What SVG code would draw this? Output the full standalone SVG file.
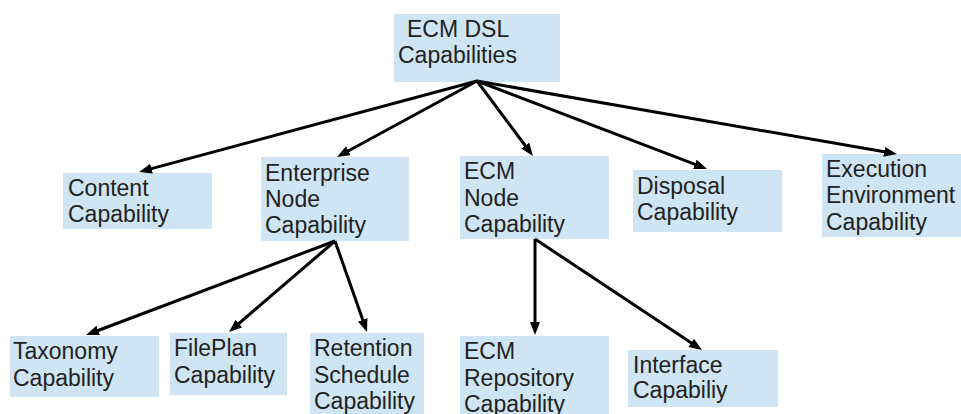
<svg xmlns="http://www.w3.org/2000/svg" width="961" height="414" viewBox="0 0 961 414">
<defs>
<style>
.box{fill:#cfe5f3}
.t{font-family:"Liberation Sans",Arial,sans-serif;font-size:23px;fill:#222}
.c{stroke:#000;stroke-width:3;fill:none;marker-end:url(#ah)}
</style>
<marker id="ah" markerUnits="userSpaceOnUse" markerWidth="14" markerHeight="11" refX="3" refY="5" orient="auto">
<path d="M0,0 L13,5 L0,10 Z" fill="#000"/>
</marker>
</defs>
<rect width="961" height="414" fill="#fff"/>
<g id="root"><rect class="box" x="394" y="14" width="166" height="68"/><text class="t" x="407" y="37">ECM DSL</text><text class="t" x="398" y="63">Capabilities</text></g>
<g id="content"><rect class="box" x="63" y="173" width="149" height="56"/><text class="t" x="68" y="196">Content</text><text class="t" x="68" y="222">Capability</text></g>
<g id="enterprise"><rect class="box" x="261" y="157" width="148" height="84"/><text class="t" x="265" y="181">Enterprise</text><text class="t" x="265" y="207">Node</text><text class="t" x="265" y="233">Capability</text></g>
<g id="ecmnode"><rect class="box" x="460" y="156" width="149" height="83"/><text class="t" x="464" y="179">ECM</text><text class="t" x="464" y="206">Node</text><text class="t" x="464" y="232">Capability</text></g>
<g id="disposal"><rect class="box" x="633" y="170" width="149" height="62"/><text class="t" x="637" y="194">Disposal</text><text class="t" x="637" y="220">Capability</text></g>
<g id="execution"><rect class="box" x="822" y="154" width="139" height="83"/><text class="t" x="826" y="177">Execution</text><text class="t" x="826" y="203">Environment</text><text class="t" x="826" y="230">Capability</text></g>
<g id="taxonomy"><rect class="box" x="10" y="336" width="149" height="61"/><text class="t" x="13" y="359">Taxonomy</text><text class="t" x="13" y="386">Capability</text></g>
<g id="fileplan"><rect class="box" x="170" y="333" width="117" height="62"/><text class="t" x="174" y="356">FilePlan</text><text class="t" x="174" y="383">Capability</text></g>
<g id="retention"><rect class="box" x="310" y="333" width="114" height="81"/><text class="t" x="314" y="356">Retention</text><text class="t" x="314" y="383">Schedule</text><text class="t" x="314" y="409">Capability</text></g>
<g id="repository"><rect class="box" x="460" y="336" width="149" height="78"/><text class="t" x="464" y="359">ECM</text><text class="t" x="464" y="386">Repository</text><text class="t" x="464" y="412">Capability</text></g>
<g id="interface"><rect class="box" x="628" y="350" width="150" height="57"/><text class="t" x="633" y="373">Interface</text><text class="t" x="633" y="398">Capabiliy</text></g>
<g id="connectors">
<line class="c" x1="477" y1="81" x2="148.7" y2="169.4"/>
<line class="c" x1="477" y1="81" x2="345.8" y2="152.2"/>
<line class="c" x1="477" y1="81" x2="527" y2="148"/>
<line class="c" x1="477" y1="81" x2="697.7" y2="165.4"/>
<line class="c" x1="477" y1="81" x2="887.1" y2="152.3"/>
<line class="c" x1="335" y1="241" x2="95.4" y2="331.5"/>
<line class="c" x1="335" y1="241" x2="236.6" y2="325.5"/>
<line class="c" x1="335" y1="241" x2="363.7" y2="322.6"/>
<line class="c" x1="535" y1="239" x2="535" y2="325"/>
<line class="c" x1="535" y1="239" x2="693.7" y2="344.5"/>
</g>
</svg>
